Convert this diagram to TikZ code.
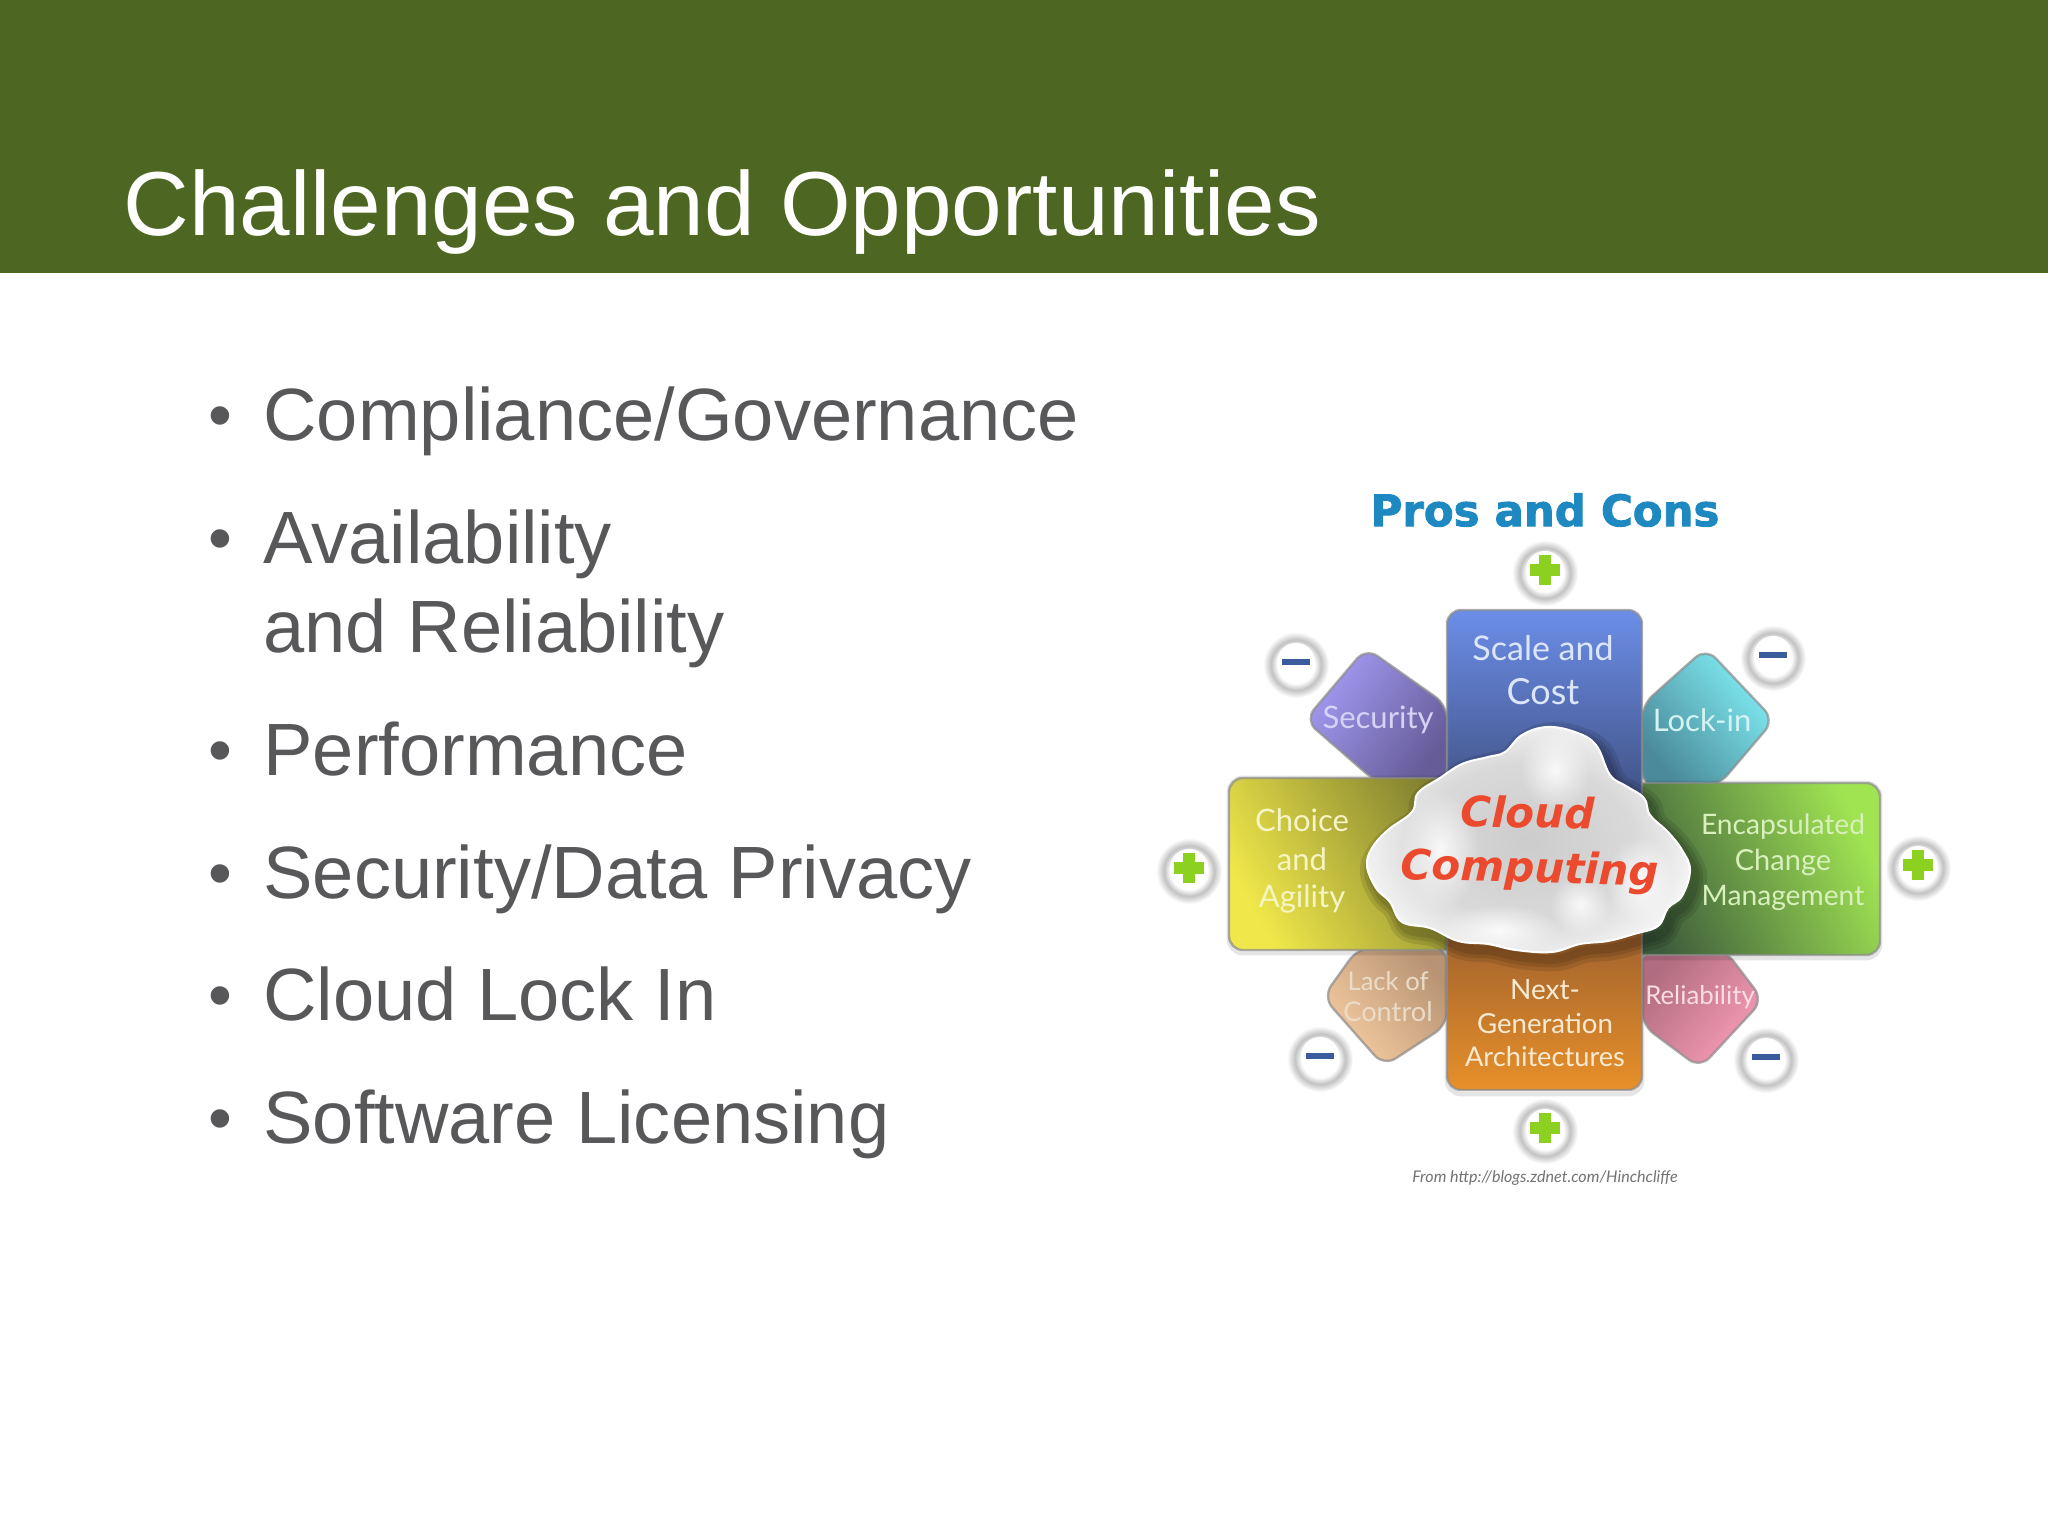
\documentclass[tikz,border=0pt]{standalone}
\usepackage{fontspec}
\setmainfont{Liberation Sans}
\newfontfamily\labelfont{Lato}
\newfontfamily\headfont[BoldFeatures={FakeBold=2}]{DejaVu Sans}
\newfontfamily\cloudfont[BoldFeatures={FakeBold=2.5}]{DejaVu Sans}
\usetikzlibrary{fadings}
\definecolor{hdr}{HTML}{4D6621}
\definecolor{bodytxt}{HTML}{58585B}
\definecolor{hdrblue}{HTML}{1E88C0}
\definecolor{secA}{HTML}{A59CF6}
\definecolor{secB}{HTML}{665C98}
\definecolor{lockA}{HTML}{82F0F6}
\definecolor{lockB}{HTML}{4A8A9A}
\definecolor{lackA}{HTML}{F6CDA2}
\definecolor{lackB}{HTML}{B89474}
\definecolor{relA}{HTML}{F99DB8}
\definecolor{relB}{HTML}{B06C80}
\definecolor{chA}{HTML}{F0E84A}
\definecolor{chB}{HTML}{808030}
\definecolor{enA}{HTML}{A0E452}
\definecolor{enB}{HTML}{3C5A3C}
\definecolor{scA}{HTML}{6C8EE8}
\definecolor{scB}{HTML}{3A4874}
\definecolor{ngA}{HTML}{92592E}
\definecolor{ngB}{HTML}{E8902A}
\definecolor{cloudred}{HTML}{EC4A2E}
\definecolor{plusgreen}{HTML}{8CD020}
\definecolor{minusblue}{HTML}{3A5C9C}
\definecolor{capsec}{HTML}{D6D2F6}
\definecolor{caplock}{HTML}{D4F4F4}
\definecolor{capsc}{HTML}{DCE6FA}
\definecolor{capch}{HTML}{F6F4C4}
\definecolor{capen}{HTML}{D8F0BC}
\definecolor{caplk}{HTML}{EADCC8}
\definecolor{caprl}{HTML}{FBDDE4}
\definecolor{capng}{HTML}{F8EAD2}
\pgfdeclareradialshading{badgehalo}{\pgfpoint{0bp}{0bp}}{%
 color(0bp)=(white); color(14bp)=(white); color(17bp)=(black!14); color(19bp)=(black!24); color(25bp)=(white); color(50bp)=(white)}
\pgfdeclareradialshading{cloudfill}{\pgfpoint{0bp}{0bp}}{%
 color(0bp)=(black!20); color(14bp)=(black!15); color(21bp)=(black!6); color(25bp)=(white); color(50bp)=(white)}
\tikzfading[name=softblob, inner color=transparent!15, outer color=transparent!100]
\tikzset{
  x=0.5pt,y=-0.5pt,
  hdrtitle/.style={anchor=base west,text=white,font=\fontsize{45.45}{45.45}\selectfont,inner sep=0pt},
  bodyline/.style={anchor=base west,text=bodytxt,font=\fontsize{37.05}{37.05}\selectfont,inner sep=0pt},
  bulletdot/.style={anchor=base west,text=bodytxt,font=\fontsize{34}{34}\selectfont,inner sep=0pt},
  tile/.style={rounded corners=7pt,draw=black!45!white,draw opacity=.7,line width=1.2pt},
  tileshadow/.style={rounded corners=7pt,draw=black,draw opacity=.10,line width=2.4pt},
  tilecap/.style={font=\labelfont\fontsize{#1}{#1}\selectfont,inner sep=0pt,anchor=center},
  badgering/.style={shading=badgehalo,draw=none},
  plusbar/.style={fill=plusgreen,draw=none,inner sep=0pt},
  minusbar/.style={fill=minusblue,draw=none,inner sep=0pt},
  blob/.style={fill=white,path fading=softblob,draw=none},
}
\newcommand{\badgeplus}[3]{%
  \shade[badgering] (#2,#3+3) circle[radius=33];
  \fill[white] (#2,#3) circle[radius=19];
  \node[plusbar,minimum width=15pt,minimum height=6pt] (#1x) at (#2,#3) {};
  \node[plusbar,minimum width=6pt,minimum height=15pt] (#1y) at (#2,#3) {};
}
\newcommand{\badgeminus}[3]{%
  \shade[badgering] (#2,#3+3) circle[radius=33];
  \fill[white] (#2,#3) circle[radius=19];
  \node[minusbar,minimum width=14pt,minimum height=3pt] (#1) at (#2,#3) {};
}
\newcommand{\cloudpts}{plot[smooth cycle,tension=0.65] coordinates {
 (1547,727) (1522,735) (1505,752) (1488,757) (1462,764) (1440,778) (1418,793) (1412,812) (1388,830) (1372,848)
 (1367,866) (1376,888) (1390,902) (1402,922) (1430,928) (1458,941) (1488,944) (1516,950) (1552,952) (1580,944)
 (1608,941) (1634,934) (1658,926) (1668,908) (1682,896) (1690,870) (1682,850) (1668,832) (1650,815) (1644,798)
 (1626,786) (1610,775) (1596,745) (1575,732)}}
\begin{document}
\begin{tikzpicture}
\useasboundingbox (0,0) rectangle (2048,1536);
\fill[white] (0,0) rectangle (2048,1536);
\fill[hdr] (0,0) rectangle (2048,273);
\node[hdrtitle] (title) at (123,235) {Challenges and Opportunities};

\node[bodyline] (linea) at (263,440) {Compliance/Governance};
\node[bodyline] (lineb) at (263,563) {Availability};
\node[bodyline] (lined) at (263,652) {and Reliability};
\node[bodyline] (linee) at (263,775) {Performance};
\node[bodyline] (linef) at (263,898) {Security/Data Privacy};
\node[bodyline] (lineg) at (263,1020) {Cloud Lock In};
\node[bodyline] (lineh) at (263,1143) {Software Licensing};
\foreach \nm/\yy in {a/438,b/561,e/773,f/896,g/1018,h/1141}{
  \node[bulletdot] (dot\nm) at (208,\yy) {•};
}

\node[text=hdrblue,font=\headfont\bfseries\fontsize{21.7}{21.7}\selectfont,inner sep=0pt] (pros) at (1545,510) {Pros and Cons};

% diamonds
\path[tile,left color=secA,right color=secB,shading angle=55] (1447,705) -- (1366,648) -- (1305,720) -- (1376,782) -- (1447,782) -- cycle;
\path[tile,left color=lockB,right color=lockA,shading angle=130] (1642,705) -- (1706,648) -- (1774,720) -- (1718,786) -- (1642,786) -- cycle;
\path[tile,left color=lackA,right color=lackB,shading angle=130] (1447,1025) -- (1384,1066) -- (1323,997) -- (1358,948) -- (1447,948) -- cycle;
\path[tile,left color=relB,right color=relA,shading angle=50] (1642,1025) -- (1700,1068) -- (1763,1000) -- (1725,950) -- (1642,950) -- cycle;
% wide bars
\path[tileshadow] (1229,778) rectangle (1470,953);
\path[tile,left color=chA,right color=chB,shading angle=120] (1229,778) rectangle (1470,950);
\path[tileshadow] (1620,783) rectangle (1880,958);
\path[tile,left color=enB,right color=enA,shading angle=115] (1620,783) rectangle (1880,955);
% tall boxes
\path[tile,top color=scA,bottom color=scB] (1447,610) rectangle (1642,830);
\path[tileshadow] (1447,900) rectangle (1642,1094);
\path[tile,top color=ngA,bottom color=ngB] (1447,900) rectangle (1642,1090);

% cloud
\begin{scope}[shift={(5,7)}]
\foreach \w in {24,16,9}{\draw[black,opacity=.10,line width=\w*0.5pt,line join=round] \cloudpts;}
\end{scope}
\begin{scope}
  \path[clip] \cloudpts;
  \fill[white] (1360,720) rectangle (1700,960);
  \shade[shading=cloudfill] (1528,842) ellipse[x radius=190,y radius=140];
  \fill[blob] (1440,850) ellipse[x radius=40,y radius=60];
  \fill[blob] (1555,770) ellipse[x radius=35,y radius=40];
  \fill[blob] (1500,930) ellipse[x radius=60,y radius=26];
  \fill[blob] (1640,880) ellipse[x radius=34,y radius=44];
  \fill[blob] (1580,905) ellipse[x radius=30,y radius=30];
\end{scope}
\draw[white,line width=1pt] \cloudpts;

\node[text=cloudred,font=\cloudfont\bfseries\itshape\fontsize{21}{21}\selectfont,inner sep=0pt,rotate=-1] (cl) at (1528,812) {Cloud};
\node[text=cloudred,font=\cloudfont\bfseries\itshape\fontsize{21}{21}\selectfont,inner sep=0pt,rotate=-1.5] (cp) at (1530,871) {Computing};

% tile captions
\node[tilecap=15.5,text=capsec] (t1) at (1378,720) {Security};
\node[tilecap=15.5,text=caplock] (t2) at (1702,720) {Lock-in};
\node[tilecap=17,text=capsc] (t3) at (1543,648) {Scale and};
\node[tilecap=18,text=capsc] (t4) at (1543,692) {Cost};
\node[tilecap=15.5,text=capch] (t5) at (1302,820) {Choice};
\node[tilecap=15.5,text=capch] (t6) at (1302,859) {and};
\node[tilecap=15.5,text=capch] (t7) at (1302,899) {Agility};
\node[tilecap=14.1,text=capen] (t8) at (1783,827) {Encapsulated};
\node[tilecap=14.5,text=capen] (t9) at (1783,862) {Change};
\node[tilecap=14.1,text=capen] (t10) at (1783,898) {Management};
\node[tilecap=12.8,text=caplk] (t11) at (1388,981) {Lack of};
\node[tilecap=13.6,text=caplk] (t12) at (1388,1012) {Control};
\node[tilecap=12.9,text=caprl] (t13) at (1700,997) {Reliability};
\node[tilecap=14,text=capng] (t14) at (1545,990) {Next-};
\node[tilecap=13.8,text=capng] (t15) at (1545,1023) {Generation};
\node[tilecap=13.6,text=capng] (t16) at (1545,1057) {Architectures};

\badgeplus{bt}{1545}{570}
\badgeminus{bs}{1296}{662}
\badgeminus{bl}{1773}{655}
\badgeplus{bw}{1189}{868}
\badgeplus{be}{1918}{865}
\badgeminus{bc}{1320}{1056}
\badgeminus{br}{1766}{1057}
\badgeplus{bb}{1545}{1128}

\node[text=black!55,font=\labelfont\itshape\fontsize{8.05}{8.05}\selectfont,inner sep=0pt] (src) at (1545,1178) {From http://blogs.zdnet.com/Hinchcliffe};
\end{tikzpicture}
\end{document}
